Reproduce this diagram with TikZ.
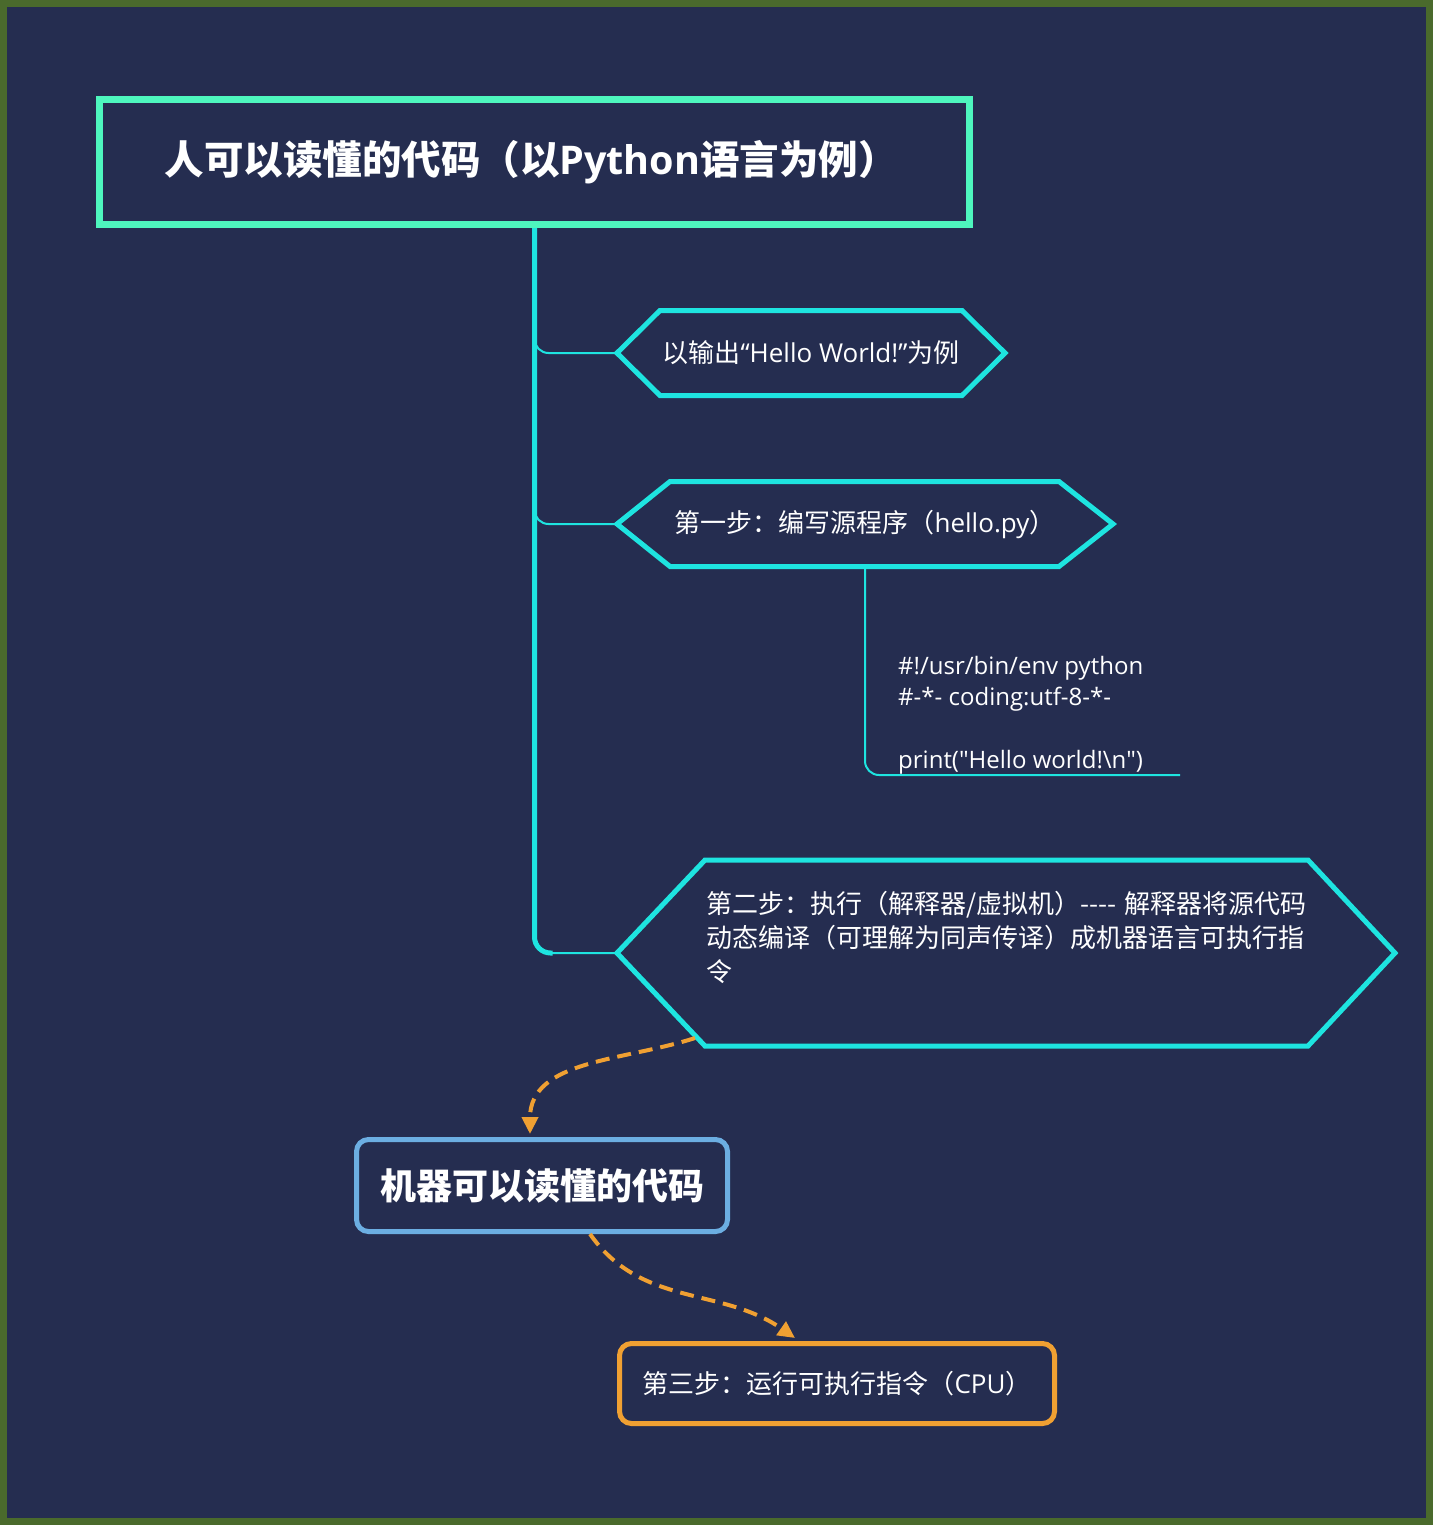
\documentclass[tikz,border=0pt]{standalone}
\usepackage{fontspec}
\setmainfont{Open Sans}
\newfontfamily\cjk{Noto Sans CJK SC}
\newfontfamily\codefont{Open Sans}[Ligatures=TeXOff]
\usepackage{tikz}
\usetikzlibrary{positioning,arrows.meta,calc}
\definecolor{bgnavy}{RGB}{37,45,80}
\definecolor{framegreen}{RGB}{74,106,44}
\definecolor{mint}{RGB}{78,246,190}
\definecolor{aqua}{RGB}{30,228,224}
\definecolor{skyblue}{RGB}{108,174,226}
\definecolor{amber}{RGB}{240,160,50}

\begin{document}
\begin{tikzpicture}[x=1pt, y=-1pt,
    titlebox/.style={rectangle, draw=mint, line width=7pt, minimum width=870pt, minimum height=125pt, inner xsep=65pt, text width=740pt, align=left, text=white, font=\cjk\bfseries\fontsize{39.5}{46}\selectfont},
    hexbox/.style={rectangle, minimum height=85pt, inner sep=0pt, outer sep=0pt, text=white, align=center, font=\cjk\fontsize{26}{34}\selectfont},
    hexline/.style={draw=aqua, line width=5pt},
    machinebox/.style={rectangle, draw=skyblue, line width=5pt, rounded corners=12pt, minimum width=371pt, minimum height=92pt, text=white, font=\cjk\bfseries\fontsize{36}{44}\selectfont},
    cpubox/.style={rectangle, draw=amber, line width=5pt, rounded corners=12pt, minimum width=435pt, minimum height=80pt, text=white, font=\cjk\fontsize{26}{34}\selectfont},
    code/.style={text=white, align=left, inner sep=0pt, font=\codefont\fontsize{24}{31.5}\selectfont},
    trunk/.style={aqua, line width=5pt, rounded corners=16pt},
    branch/.style={aqua, line width=2pt, rounded corners=14pt},
    flow/.style={amber, line width=4pt, dash pattern=on 14pt off 8pt, -{Triangle[length=17pt,width=16pt]}}
]
    % Background and frame
    \useasboundingbox (0,0) rectangle (1433,1525);
    \fill[framegreen] (0,0) rectangle (1433,1525);
    \fill[bgnavy] (7,7) rectangle (1426,1518);

    % Human readable code
    \node[titlebox] (title) at (534.5,162) {人可以读懂的代码（以{\rmfamily Python}语言为例）};

    \node[hexbox, minimum width=388pt] (hello) at (811,353) {以输出{\rmfamily “Hello World!”}为例};
    \draw[hexline] (hello.west) -- ([xshift=43pt]hello.north west) -- ([xshift=-43pt]hello.north east)
        -- (hello.east) -- ([xshift=-43pt]hello.south east) -- ([xshift=43pt]hello.south west) -- cycle;

    \node[hexbox, minimum width=496pt] (step1) at (865,524) {第一步：编写源程序（{\rmfamily hello.py}）};
    \draw[hexline] (step1.west) -- ([xshift=53pt]step1.north west) -- ([xshift=-54pt]step1.north east)
        -- (step1.east) -- ([xshift=-54pt]step1.south east) -- ([xshift=53pt]step1.south west) -- cycle;

    \node[code, anchor=base west] (src) at (898,768) {\#!/usr/bin/env python\\\#-*- coding:utf-8-*-\\[31pt]print("Hello world!\textbackslash n")};
    \coordinate (srcend) at (1180,775);

    \node[hexbox, minimum width=778pt, minimum height=186pt, text width=600pt, align=left] (step2) at (1006,953)
        {\mbox{第二步：执行（解释器/虚拟机）-{}-{}-{}- 解释器将源代码}\\动态编译（可理解为同声传译）成机器语言可执行指\\令\\\mbox{}};
    \draw[hexline] (step2.west) -- ([xshift=88pt]step2.north west) -- ([xshift=-87pt]step2.north east)
        -- (step2.east) -- ([xshift=-87pt]step2.south east) -- ([xshift=88pt]step2.south west) -- cycle;

    % Tree connectors
    \draw[trunk] (title.south) |- ($(title.south |- step2.west)+(18,0)$);
    \draw[branch] (title.south) |- (hello.west);
    \draw[branch] (title.south) |- (step1.west);
    \draw[branch] (title.south) |- (step2.west);
    \draw[branch] (step1.south) |- (srcend);

    % Machine readable code
    \node[machinebox] (machine) at (542,1185.5) {机器可以读懂的代码};
    \node[cpubox] (cpu) at (837,1383.5) {第三步：运行可执行指令（{\rmfamily CPU}）};

    \draw[flow] ([xshift=78pt,yshift=8pt]step2.south west) to[out=198, in=90] ([xshift=-12pt,yshift=3pt]machine.north);
    \draw[flow] ([xshift=48pt]machine.south) to[out=-55, in=145] ([xshift=-42pt,yshift=3pt]cpu.north);

\end{tikzpicture}
\end{document}
